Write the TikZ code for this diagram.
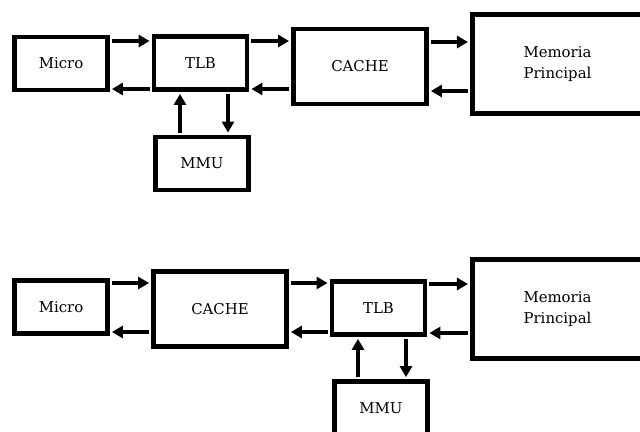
\documentclass[tikz,border=0pt]{standalone}
\usepackage{fontspec}
\setmainfont{DejaVu Serif}
\usepackage{tikz}
\usetikzlibrary{arrows.meta}

\tikzset{
  blk/.style={draw, line width=1.15mm, inner sep=0pt, align=center,
    font=\fontsize{10.6}{15}\selectfont},
  small/.style={blk, minimum width=2.33cm, minimum height=1.33cm},
  wide/.style={blk, minimum width=3.33cm, minimum height=1.88cm},
  big/.style={blk, minimum width=4.26cm, minimum height=2.48cm},
  flow/.style={line width=1mm, -{Triangle[length=2.75mm,width=3mm]},
    shorten <=0.5mm, shorten >=0.5mm}
}

\begin{document}
\begin{tikzpicture}[x=0.025cm, y=-0.025cm]
    \useasboundingbox (0,0) rectangle (640,432);
    \clip (0,0) rectangle (640,432);

    % Upper scheme: TLB before the cache
    \node[small] (microA) at (61,63.5) {Micro};
    \node[small] (tlbA) at (200.5,63) {TLB};
    \node[wide] (cacheA) at (360,66.5) {CACHE};
    \node[big] (memA) at (557.5,64) {Memoria\\Principal};
    \node[small] (mmuA) at (202,163.5) {MMU};

    \draw[flow] (microA.east |- 0,41) -- (tlbA.west |- 0,41);
    \draw[flow] (tlbA.west |- 0,89) -- (microA.east |- 0,89);
    \draw[flow] (tlbA.east |- 0,41) -- (cacheA.west |- 0,41);
    \draw[flow] (cacheA.west |- 0,89) -- (tlbA.east |- 0,89);
    \draw[flow] (cacheA.east |- 0,42) -- (memA.west |- 0,42);
    \draw[flow] (memA.west |- 0,91) -- (cacheA.east |- 0,91);
    \draw[flow] (mmuA.north -| 180,0) -- (tlbA.south -| 180,0);
    \draw[flow] (tlbA.south -| 228,0) -- (mmuA.north -| 228,0);

    % Lower scheme: cache before the TLB
    \node[small] (microB) at (61,307) {Micro};
    \node[wide] (cacheB) at (220,309) {CACHE};
    \node[small] (tlbB) at (378.5,308) {TLB};
    \node[big] (memB) at (557.5,309) {Memoria\\Principal};
    \node[small] (mmuB) at (381,408) {MMU};

    \draw[flow] (microB.east |- 0,283) -- (cacheB.west |- 0,283);
    \draw[flow] (cacheB.west |- 0,332) -- (microB.east |- 0,332);
    \draw[flow] (cacheB.east |- 0,283) -- (tlbB.west |- 0,283);
    \draw[flow] (tlbB.west |- 0,332) -- (cacheB.east |- 0,332);
    \draw[flow] (tlbB.east |- 0,284) -- (memB.west |- 0,284);
    \draw[flow] (memB.west |- 0,333) -- (tlbB.east |- 0,333);
    \draw[flow] (mmuB.north -| 358,0) -- (tlbB.south -| 358,0);
    \draw[flow] (tlbB.south -| 406,0) -- (mmuB.north -| 406,0);
\end{tikzpicture}
\end{document}
